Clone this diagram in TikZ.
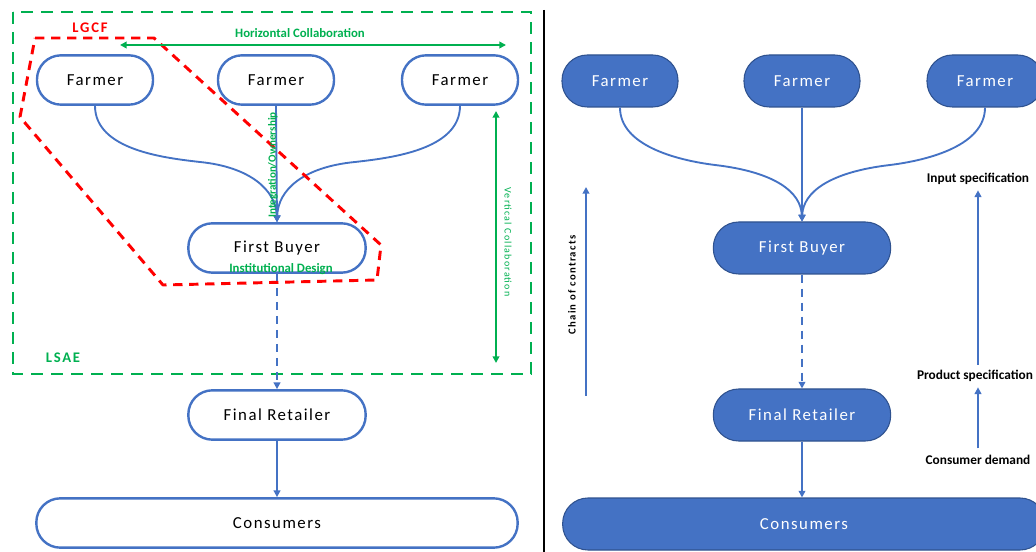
\documentclass[tikz,border=0pt]{standalone}
\usepackage{fontspec}
\setmainfont{Carlito}
\newfontfamily\boxfont[LetterSpace=9]{Carlito}
\newfontfamily\spacedfont[LetterSpace=12]{Carlito}
\usetikzlibrary{arrows.meta}
\definecolor{cblue}{HTML}{4472C4}
\definecolor{cblueD}{HTML}{2F528F}
\definecolor{cgreen}{HTML}{00B050}
\definecolor{cred}{HTML}{FF0000}
\tikzset{
  pill/.style={draw=cblue, line width=1.8pt, fill=white, rounded corners=18pt,
    minimum height=37pt, inner sep=0pt, font=\boxfont\fontsize{12.6}{14}\selectfont, text=black},
  pillF/.style={draw=cblueD, line width=0.8pt, fill=cblue, rounded corners=19pt,
    minimum height=39pt, inner sep=0pt, font=\boxfont\fontsize{12.6}{14}\selectfont, text=white},
  conn/.style={draw=cblue, line width=1.4pt, -{Triangle[length=5pt,width=5pt]}},
  dconn/.style={conn, dash pattern=on 6pt off 4.5pt},
  garrow/.style={draw=cgreen, line width=1.5pt, {Triangle[length=5pt,width=5pt]}-{Triangle[length=5pt,width=5pt]}},
  glabel/.style={text=cgreen, font=\bfseries\fontsize{9.6}{11}\selectfont, inner sep=0pt},
  blabel/.style={text=black, font=\bfseries\fontsize{10}{12}\selectfont, inner sep=0pt},
}
\begin{document}
\begin{tikzpicture}[x=0.75pt,y=-0.75pt]
\useasboundingbox (0,0) rectangle (1036,552);
% ---------- left panel ----------
\draw[cgreen, line width=2.2pt, dash pattern=on 9pt off 6pt] (13,12) rectangle (531,374);
\node[text=cred, font=\spacedfont\bfseries\fontsize{11}{13}\selectfont, inner sep=0pt] (lgcf) at (90,28) {LGCF};
\node[text=cgreen, font=\spacedfont\bfseries\fontsize{11}{13}\selectfont, inner sep=0pt] (lsae) at (63,358) {LSAE};

\node[pill, minimum width=87pt] (lf1) at (95,80) {Farmer};
\node[pill, minimum width=87pt] (lf2) at (276,80) {Farmer};
\node[pill, minimum width=87pt] (lf3) at (460,80) {Farmer};
\node[pill, minimum width=133pt] (lfb) at (277,248) {First Buyer};
\node[pill, minimum width=133pt] (lfr) at (277,415) {Final Retailer};
\node[pill, minimum width=361pt] (lco) at (277,523) {Consumers};

\draw[conn] (lf2.south) -- (lfb.north);
\draw[conn] (lf1.south) .. controls (95,150) and (165,158) .. (200,162) .. controls (250,167) and (276,190) .. (lfb.north);
\draw[conn] (lf3.south) .. controls (460,150) and (390,158) .. (355,162) .. controls (303,167) and (278,190) .. (lfb.north);
\draw[dconn] (lfb.south) -- (lfr.north);
\draw[conn] (lfr.south) -- (lco.north);

% red LGCF outline
\draw[cred, line width=2.2pt, dash pattern=on 7pt off 5pt, line join=round]
  (35,38) -- (154,38) -- (381,245) -- (377,280) -- (163,285) -- (20,117) -- cycle;

% green annotations
\coordinate (hl) at (120,45);
\coordinate (hr) at (506,45);
\draw[garrow] (hl) -- (hr);
\node[glabel] (hlab) at (300,33) {Horizontal Collaboration};
\coordinate (vt) at (496,111);
\coordinate (vb) at (496,363);
\draw[garrow] (vt) -- (vb);
\node[text=cgreen, font=\spacedfont\fontsize{7.5}{9}\selectfont, inner sep=0pt, rotate=-90] (vlab) at (508,242) {Vertical Collaboration};
\node[glabel, rotate=90, font=\bfseries\fontsize{8.3}{10}\selectfont] (iown) at (273,165) {Integration/Ownership};
\node[glabel] (inst) at (281,269) {Institutional Design};

% divider
\coordinate (dvt) at (544,10);
\coordinate (dvb) at (544,552);
\draw[black, line width=1.2pt] (dvt) -- (dvb);

% ---------- right panel ----------
\node[pillF, minimum width=87pt] (rf1) at (620,81) {Farmer};
\node[pillF, minimum width=87pt] (rf2) at (802,81) {Farmer};
\node[pillF, minimum width=87pt] (rf3) at (985,81) {Farmer};
\node[pillF, minimum width=133pt] (rfb) at (802,248) {First Buyer};
\node[pillF, minimum width=133pt] (rfr) at (802,415) {Final Retailer};
\node[pillF, minimum width=362pt] (rco) at (804,524) {Consumers};

\draw[conn] (rf2.south) -- (rfb.north);
\draw[conn] (rf1.south) .. controls (620,145) and (675,160) .. (715,165) .. controls (775,172) and (801,192) .. (rfb.north);
\draw[conn] (rf3.south) .. controls (985,145) and (930,160) .. (890,165) .. controls (830,172) and (803,192) .. (rfb.north);
\draw[dconn] (rfb.south) -- (rfr.north);
\draw[conn] (rfr.south) -- (rfr.south |- rco.north);

\node[text=black, font=\spacedfont\bfseries\fontsize{8}{10}\selectfont, inner sep=0pt, rotate=90] (chain) at (572,285) {Chain of contracts};
\coordinate (cb) at (586,396);
\coordinate (ct) at (586,187);
\draw[conn] (cb) -- (ct);

\node[blabel] (inspec) at (978,179) {Input specification};
\node[blabel] (pspec) at (975,376) {Product specification};
\node[blabel] (cdem) at (978,460) {Consumer demand};
\draw[conn, shorten <=4pt, shorten >=4pt] (pspec.north -| inspec) -- (inspec.south);
\draw[conn, shorten <=5pt, shorten >=4pt] (cdem.north -| inspec) -- (pspec.south -| inspec);
\end{tikzpicture}
\end{document}
